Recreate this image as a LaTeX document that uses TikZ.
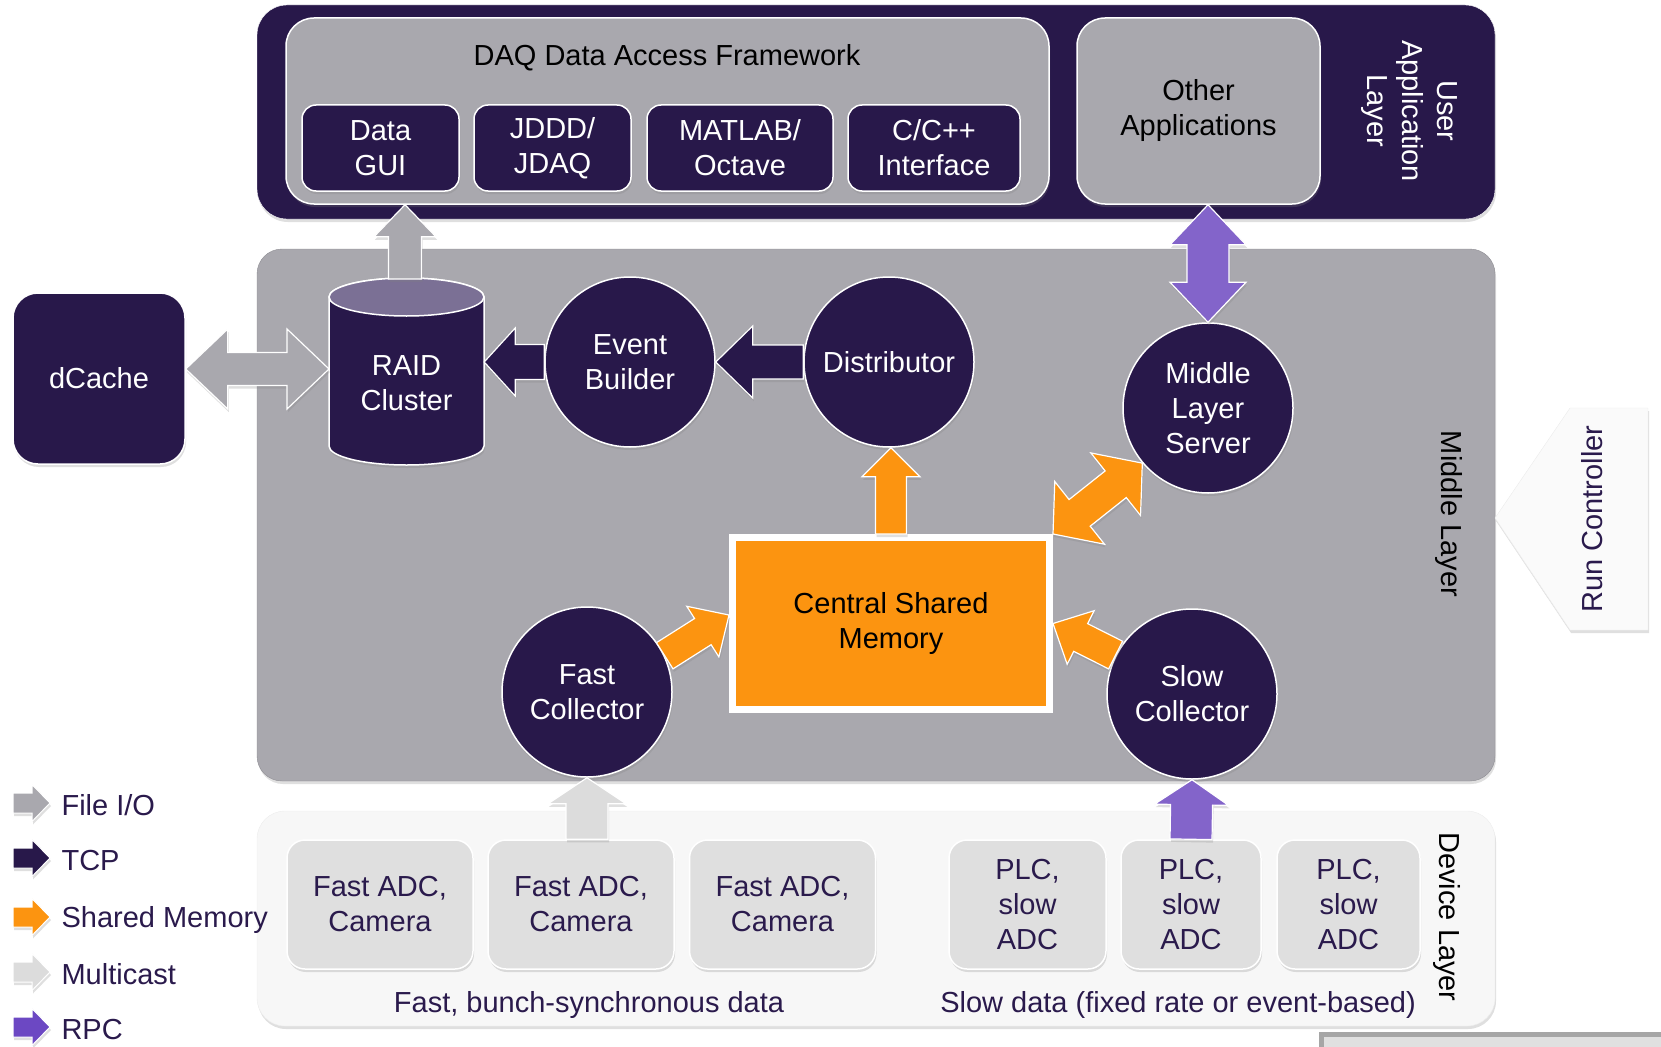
\documentclass[tikz,border=0pt]{standalone}
\usepackage{fontspec}
\setmainfont{Liberation Sans}
\usetikzlibrary{calc,shadows}

\definecolor{daqpurple}{HTML}{28184A}
\definecolor{daqgray}{HTML}{A9A8AE}
\definecolor{daqedge}{HTML}{8E8D93}
\definecolor{daqlid}{HTML}{7B7095}
\definecolor{daqorange}{HTML}{FC9410}
\definecolor{daqrpc}{HTML}{8364CA}
\definecolor{daqrpcleg}{HTML}{6C48C3}
\definecolor{daqmcast}{HTML}{DCDCDC}
\definecolor{daqdev}{HTML}{DFDFDF}
\definecolor{daqpale}{HTML}{F7F7F7}
\definecolor{daqtext}{HTML}{2A1A4C}

\tikzset{softshadow/.style={drop shadow={shadow xshift=1pt, shadow yshift=-3pt, opacity=0.25}}}

% block arrow: style, tail, tip, shaft half width, head half width, head length
\newcommand{\fatarrow}[6]{%
  \coordinate (fah) at ($(#3)!#6!(#2)$);
  \path[#1] ($(#2)!#4!90:(#3)$) -- ($(fah)!#4!90:(#3)$) -- ($(fah)!#5!90:(#3)$) -- (#3)
    -- ($(fah)!#5!-90:(#3)$) -- ($(fah)!#4!-90:(#3)$) -- ($(#2)!#4!-90:(#3)$) -- cycle;}
% same with a head on both ends
\newcommand{\fatboth}[6]{%
  \coordinate (fah) at ($(#3)!#6!(#2)$);
  \coordinate (fat) at ($(#2)!#6!(#3)$);
  \path[#1] (#2) -- ($(fat)!#5!90:(#3)$) -- ($(fat)!#4!90:(#3)$) -- ($(fah)!#4!90:(#3)$)
    -- ($(fah)!#5!90:(#3)$) -- (#3) -- ($(fah)!#5!-90:(#3)$) -- ($(fah)!#4!-90:(#3)$)
    -- ($(fat)!#4!-90:(#3)$) -- ($(fat)!#5!-90:(#3)$) -- cycle;}

\begin{document}
\begin{tikzpicture}[x=1pt, y=-1pt,
    txt/.style={font=\fontsize{29}{35}\selectfont, align=center},
    lbl/.style={txt, yshift=-2.5pt},
    layer/.style={rounded corners=30pt, softshadow},
    darkbox/.style={txt, fill=daqpurple, draw=white, line width=1.5pt, text=white, rounded corners=14pt, minimum height=86pt, softshadow},
    panel/.style={txt, fill=daqgray, draw=white, line width=1.5pt, rounded corners=28pt, softshadow},
    proc/.style={txt, circle, fill=daqpurple, draw=white, line width=1.5pt, text=white, minimum size=170pt, inner sep=0pt, softshadow},
    devbox/.style={txt, fill=daqdev, draw=white, line width=1.5pt, text=daqtext, rounded corners=18pt, minimum height=129pt, softshadow},
    fileio/.style={fill=daqgray, draw=white, line width=1.2pt, softshadow},
    tcp/.style={fill=daqpurple, draw=white, line width=1.2pt, softshadow},
    shm/.style={fill=daqorange, draw=white, line width=1.2pt, softshadow},
    mcast/.style={fill=daqmcast, draw=white, line width=1.2pt, softshadow},
    rpc/.style={fill=daqrpc, draw=white, line width=1.2pt, softshadow},
    legarrow/.style={fill=#1, draw=white, line width=1pt, softshadow}]

  \useasboundingbox (0,0) rectangle (1661,1046);

  % layers
  \node[layer, fill=daqpurple, draw=white, minimum width=1238pt, minimum height=214pt] (userlayer) at (876,112) {};
  \node[layer, fill=daqgray, draw=daqedge, rounded corners=25pt, minimum width=1238pt, minimum height=532pt] (midlayer) at (876,515) {};
  \node[layer, fill=daqpale, draw=black!7, rounded corners=28pt, minimum width=1238pt, minimum height=215pt] (devlayer) at (876,918.5) {};

  % user application layer
  \node[panel, minimum width=763pt, minimum height=186pt] (daq) at (667.5,111) {};
  \node[lbl] (daqtitle) at (667,55) {DAQ Data Access Framework};
  \node[darkbox, minimum width=157pt] (datagui) at (380.5,148) {Data\\GUI};
  \node[darkbox, minimum width=157pt] (jddd) at (552.5,148) {JDDD/\\JDAQ};
  \node[darkbox, minimum width=186pt] (matlab) at (740,148) {MATLAB/\\Octave};
  \node[darkbox, minimum width=172pt] (cppif) at (934,148) {C/C++\\Interface};
  \node[panel, minimum width=243pt, minimum height=186pt] (other) at (1198.5,111) {Other\\Applications};
  \node[txt, text=white, rotate=-90] (ullabel) at (1409,111) {User\\Application\\Layer};

  % middle layer
  \node[txt, rotate=-90] (midlabel) at (1449,514) {Middle Layer};
  \node[darkbox, rounded corners=25pt, minimum width=172pt, minimum height=171pt] (dcache) at (99,378.5) {dCache};
  \draw[fill=daqpurple, draw=white, line width=1.5pt, softshadow] (329,297) -- (329,446)
    arc (180:360:77.5pt and 19pt) -- (484,297) arc (0:180:77.5pt and 19pt) -- cycle;
  \draw[fill=daqlid, draw=white, line width=1.5pt] (406.5,297) ellipse (77.5pt and 19pt);
  \node[lbl, text=white, minimum width=155pt, inner sep=0pt] (raid) at (406.5,381) {RAID\\Cluster};
  \node[proc] (eb) at (630,362) {Event\\Builder};
  \node[proc] (dist) at (889,362) {Distributor};
  \node[proc] (mls) at (1208,408) {Middle\\Layer\\Server};
  \node[proc] (fc) at (587,692) {Fast\\Collector};
  \node[proc] (sc) at (1192,694) {Slow\\Collector};
  \node[txt, fill=daqorange, draw=white, line width=7pt, minimum width=317pt, minimum height=172pt, softshadow] (csm) at (891,623.5) {Central Shared\\Memory};

  % device layer
  \node[devbox, minimum width=186pt] (fadc1) at (380,904.5) {Fast ADC,\\Camera};
  \node[devbox, minimum width=186pt] (fadc2) at (581,904.5) {Fast ADC,\\Camera};
  \node[devbox, minimum width=186pt] (fadc3) at (782.5,904.5) {Fast ADC,\\Camera};
  \node[devbox, minimum width=157pt] (plc1) at (1027.5,904.5) {PLC,\\slow\\ADC};
  \node[devbox, minimum width=140pt] (plc2) at (1191,904.5) {PLC,\\slow\\ADC};
  \node[devbox, minimum width=143pt] (plc3) at (1348.5,904.5) {PLC,\\slow\\ADC};
  \node[lbl, text=daqtext] (fastdata) at (589,1002) {Fast, bunch-synchronous data};
  \node[lbl, text=daqtext] (slowdata) at (1178,1002) {Slow data (fixed rate or event-based)};
  \node[txt, rotate=-90] (devlabel) at (1447,917) {Device Layer};

  % run controller tab
  \draw[fill=black!2, draw=black!8, softshadow] (1495,518) -- (1570,408) -- (1648,408) -- (1648,630) -- (1570,630) -- cycle;
  \node[txt, text=daqtext, rotate=90] (runctl) at (1592,519) {Run Controller};
  \draw[draw=black!35, fill=black!12, line width=5pt] (1321.5,1034.5) rectangle (1700,1100);

  % data paths
  \coordinate (raidtop) at (405,279);
  \coordinate (guiport) at (raidtop |- daq.south);
  \fatarrow{fileio}{raidtop}{guiport}{16.5pt}{31pt}{32pt}
  \coordinate (dcport) at (329,369);
  \coordinate (dcache-e) at (dcport -| dcache.east);
  \fatboth{fileio}{dcache-e}{dcport}{16.5pt}{40pt}{42pt}
  \coordinate (raidin) at (eb.west -| raid.east);
  \fatarrow{tcp}{eb.west}{raidin}{17.5pt}{34pt}{31pt}
  \fatarrow{tcp}{dist.west}{eb.east}{17pt}{36pt}{37pt}
  \coordinate (distin) at (csm.north |- dist.south);
  \fatarrow{shm}{csm.north}{distin}{15.5pt}{29pt}{29pt}
  \fatboth{shm}{csm.north east}{mls.220}{17pt}{40pt}{34pt}
  \fatarrow{shm}{fc.25}{csm.177}{15.5pt}{30pt}{31pt}
  \fatarrow{shm}{sc.153}{csm.east}{15.5pt}{30pt}{31pt}
  \coordinate (fastin) at (fadc2.north -| fc.south);
  \fatarrow{mcast}{fastin}{fc.south}{21pt}{39pt}{26pt}
  \fatarrow{rpc}{plc2.north}{sc.south}{21pt}{37pt}{25pt}
  \coordinate (otherout) at (mls.north |- other.south);
  \fatboth{rpc}{otherout}{mls.north}{21pt}{38pt}{40pt}

  % legend
  \foreach \ly/\lcol/\ltext in {803/daqgray/{File I/O}, 858/daqpurple/TCP, 917/daqorange/{Shared Memory}, 972/daqmcast/Multicast, 1027/daqrpcleg/RPC} {
    \fatarrow{legarrow=\lcol}{13,\ly}{50,\ly}{10pt}{18.5pt}{18pt}
    \node[lbl, text=daqtext, anchor=west] (leg\ly) at (58,\ly) {\ltext};
  }
\end{tikzpicture}
\end{document}
